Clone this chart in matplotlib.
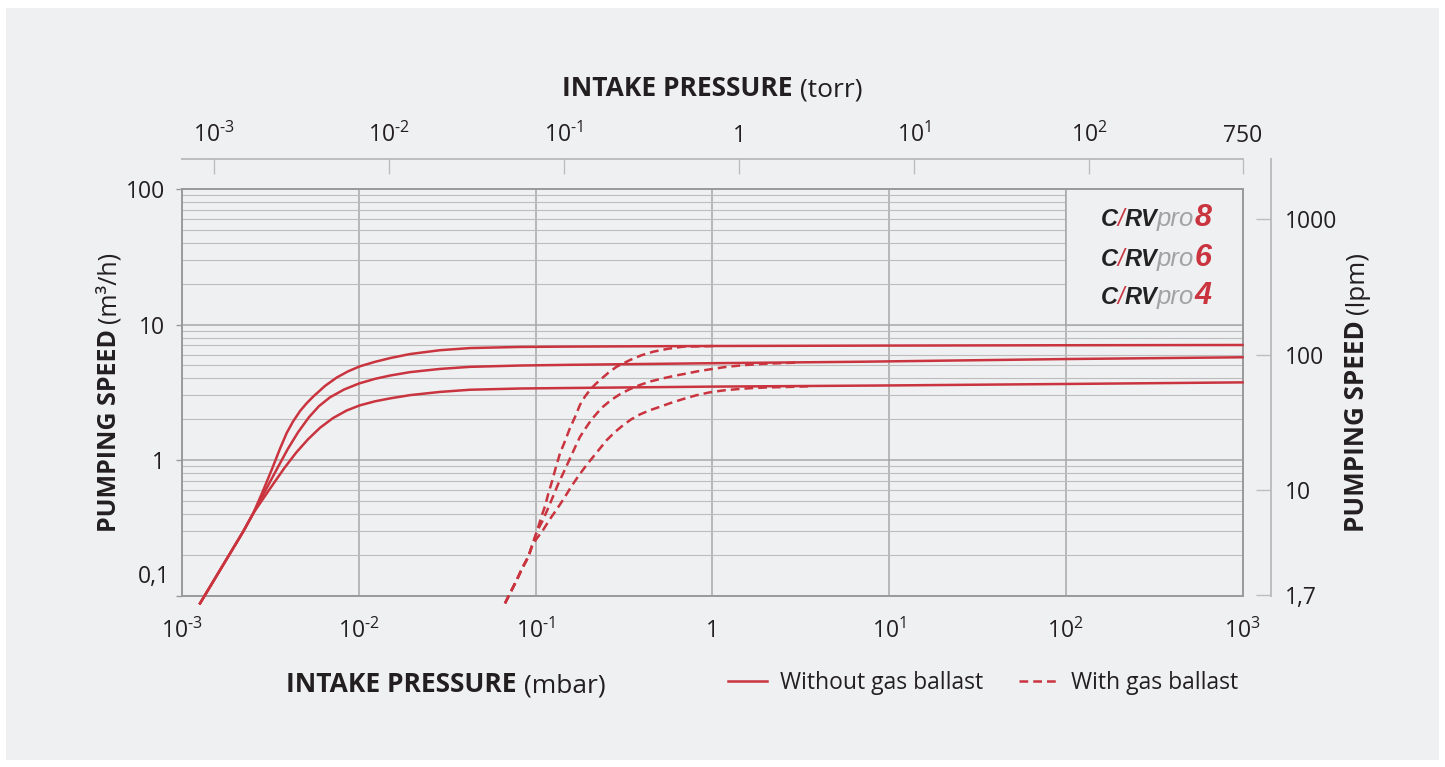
import matplotlib
matplotlib.use("Agg")
import matplotlib.pyplot as plt
from matplotlib.patches import Rectangle
from matplotlib.lines import Line2D
from matplotlib.offsetbox import TextArea, HPacker, AnnotationBbox
from matplotlib.ticker import LogLocator, NullLocator

FONT = 'Open Sans'
plt.rcParams['font.family'] = [FONT, 'DejaVu Sans']
plt.rcParams['mathtext.fontset'] = 'custom'
plt.rcParams['mathtext.rm'] = FONT
plt.rcParams['mathtext.it'] = FONT + ':italic'
plt.rcParams['mathtext.bf'] = FONT + ':bold'

# ---- data (pressure in mbar, speed in m3/h) ----
solid_p8_mbar = [1.26e-3, 2.21e-3, 2.52e-3, 2.86e-3, 3.22e-3, 3.57e-3, 3.90e-3, 4.23e-3, 4.64e-3,
                 5.05e-3, 5.51e-3, 6.42e-3, 7.48e-3, 8.67e-3, 1.01e-2, 1.23e-2, 1.50e-2, 1.94e-2,
                 2.87e-2, 4.25e-2, 8.15e-2, 0.156, 1.0, 10, 100, 1000]
solid_p8_speed = [0.0875, 0.296, 0.404, 0.590, 0.859, 1.21, 1.585, 1.92, 2.30,
                  2.62, 2.94, 3.52, 4.06, 4.51, 4.91, 5.30, 5.65, 6.05,
                  6.46, 6.70, 6.83, 6.87, 6.94, 6.99, 7.03, 7.06]

solid_p6_mbar = [1.26e-3, 2.21e-3, 2.52e-3, 2.94e-3, 3.48e-3, 3.96e-3, 4.53e-3, 5.21e-3, 5.94e-3,
                 6.85e-3, 8.22e-3, 1.0e-2, 1.23e-2, 1.50e-2, 1.94e-2, 2.87e-2, 4.25e-2, 8.15e-2,
                 0.156, 1.0, 6.84, 100, 1000]
solid_p6_speed = [0.0875, 0.296, 0.404, 0.589, 0.888, 1.21, 1.61, 2.07, 2.50,
                  2.90, 3.31, 3.67, 3.97, 4.20, 4.45, 4.70, 4.87, 4.98,
                  5.04, 5.18, 5.31, 5.56, 5.73]

solid_p4_mbar = [1.26e-3, 2.21e-3, 2.52e-3, 3.06e-3, 3.76e-3, 4.40e-3, 5.14e-3, 6.02e-3, 7.13e-3,
                 8.52e-3, 1.01e-2, 1.23e-2, 1.50e-2, 1.94e-2, 2.87e-2, 4.25e-2, 8.15e-2, 0.156,
                 1.0, 10, 100, 1000]
solid_p4_speed = [0.0875, 0.296, 0.404, 0.587, 0.864, 1.13, 1.42, 1.73, 2.04,
                  2.32, 2.53, 2.71, 2.85, 3.01, 3.18, 3.30, 3.37, 3.40,
                  3.48, 3.55, 3.64, 3.74]

ballast_p8_mbar = [6.70e-2, 7.16e-2, 7.81e-2, 8.39e-2, 9.08e-2, 9.57e-2, 0.1015, 0.107, 0.113,
                   0.118, 0.124, 0.130, 0.137, 0.1465, 0.156, 0.167, 0.178, 0.190, 0.203,
                   0.217, 0.231, 0.257, 0.287, 0.342, 0.394, 0.463, 0.561, 0.684, 1.06]
ballast_p8_speed = [0.0875, 0.104, 0.130, 0.159, 0.193, 0.236, 0.296, 0.372, 0.458,
                    0.568, 0.703, 0.883, 1.11, 1.38, 1.71, 2.08, 2.55, 2.94, 3.29,
                    3.61, 3.89, 4.39, 4.88, 5.47, 5.91, 6.30, 6.62, 6.86, 6.94]

ballast_p6_mbar = [6.70e-2, 7.16e-2, 7.81e-2, 8.39e-2, 9.08e-2, 9.57e-2, 0.1015, 0.110, 0.118,
                   0.126, 0.134, 0.145, 0.156, 0.167, 0.178, 0.193, 0.207, 0.224, 0.241,
                   0.267, 0.300, 0.342, 0.389, 0.449, 0.527, 0.614, 0.716, 0.829, 0.969,
                   1.19, 1.50, 1.86, 2.31, 3.13]
ballast_p6_speed = [0.0875, 0.104, 0.130, 0.159, 0.193, 0.236, 0.296, 0.361, 0.446,
                    0.547, 0.665, 0.829, 1.02, 1.24, 1.48, 1.74, 1.99, 2.24, 2.48,
                    2.77, 3.06, 3.34, 3.58, 3.81, 4.01, 4.19, 4.35, 4.52, 4.67,
                    4.86, 5.01, 5.11, 5.17, 5.24]

ballast_p4_mbar = [6.70e-2, 7.16e-2, 7.81e-2, 8.39e-2, 9.08e-2, 9.57e-2, 0.102, 0.110, 0.120,
                   0.132, 0.145, 0.158, 0.174, 0.194, 0.217, 0.252, 0.281, 0.313, 0.346,
                   0.389, 0.443, 0.505, 0.583, 0.684, 0.808, 0.969, 1.15, 1.37, 1.65,
                   2.03, 2.68, 3.57]
ballast_p4_speed = [0.0875, 0.104, 0.130, 0.159, 0.193, 0.236, 0.266, 0.304, 0.364,
                    0.435, 0.524, 0.629, 0.758, 0.918, 1.10, 1.40, 1.61, 1.81, 1.99,
                    2.17, 2.33, 2.47, 2.64, 2.82, 3.00, 3.16, 3.26, 3.33, 3.39,
                    3.43, 3.46, 3.50]

mbar_ticks = [1e-3, 1e-2, 1e-1, 1, 10, 100, 1000]
mbar_labels = [r'$\mathregular{10^{\text{-}3}}$', r'$\mathregular{10^{\text{-}2}}$',
               r'$\mathregular{10^{\text{-}1}}$', '1',
               r'$\mathregular{10^{1}}$', r'$\mathregular{10^{2}}$', r'$\mathregular{10^{3}}$']
torr_ticks = [1e-3, 1e-2, 1e-1, 1, 10, 100, 750]
torr_labels = [r'$\mathregular{10^{\text{-}3}}$', r'$\mathregular{10^{\text{-}2}}$',
               r'$\mathregular{10^{\text{-}1}}$', '1',
               r'$\mathregular{10^{1}}$', r'$\mathregular{10^{2}}$', '750']
speed_ticks = [1, 10, 100]
speed_labels = ['1', '10', '100']
lpm_ticks = [1.7, 10, 100, 1000]
lpm_labels = ['1,7', '10', '100', '1000']
models = ['8', '6', '4']

# ---- style ----
BG = '#eff0f2'
RED = '#c9343f'
TEXT = '#231f20'
SPINE = '#9a9a9a'
GRID_MAJOR = '#a8a8a8'
GRID_MINOR = '#bcbcbc'
LIGHT = '#bdbdbd'
TICK_SIZE = 16.5
TITLE_SIZE = 19
DASH = (0, (3.5, 2))
W, H = 1445, 767


def fx(px):
    return px / W


def fy(py):
    return 1 - py / H


fig = plt.figure(figsize=(W / 100, H / 100), dpi=100, facecolor='white')
fig.patches.append(Rectangle((fx(6), fy(760)), fx(1439) - fx(6), fy(8) - fy(760),
                             transform=fig.transFigure, facecolor=BG, edgecolor='none', zorder=-10))

# main axes (mbar / m3/h)
ax = fig.add_axes([fx(182.3), fy(595.5), fx(1242.5) - fx(182.3), fy(189) - fy(595.5)])
ax.patch.set_visible(False)
ax.set_xscale('log')
ax.set_yscale('log')
ax.set_xlim(1e-3, 1e3)
ax.set_ylim(0.1, 100)
ax.xaxis.set_minor_locator(NullLocator())
ax.yaxis.set_minor_locator(LogLocator(base=10, subs=range(2, 10)))
ax.set_xticks(mbar_ticks)
ax.set_xticklabels(mbar_labels)
ax.set_yticks([0.1] + speed_ticks)
ax.set_yticklabels([''] + speed_labels)
ax.grid(which='major', color=GRID_MAJOR, lw=1.1)
ax.grid(which='minor', axis='y', color=GRID_MINOR, lw=0.8)
ax.tick_params(axis='x', which='both', length=0, pad=17, labelsize=TICK_SIZE, labelcolor=TEXT)
ax.tick_params(axis='y', which='minor', length=0)
ax.tick_params(axis='y', which='major', length=4.5, width=1, color=SPINE, pad=8,
               labelsize=TICK_SIZE, labelcolor=TEXT)
for s in ax.spines.values():
    s.set_color(SPINE)
    s.set_linewidth(1.4)
ax.annotate('0,1', xy=(0, 0.1), xycoords=('axes fraction', 'data'), xytext=(-9, 13),
            textcoords='offset points', ha='right', va='center', fontsize=TICK_SIZE, color=TEXT)

# box for the model names hides the grid behind it
ax.add_patch(Rectangle((100, 10), 900, 90, facecolor=BG, edgecolor=GRID_MAJOR, lw=1.1, zorder=1.6))

for xs, ys in [(solid_p8_mbar, solid_p8_speed), (solid_p6_mbar, solid_p6_speed),
               (solid_p4_mbar, solid_p4_speed)]:
    ax.plot(xs, ys, color=RED, lw=1.8, clip_on=False, zorder=3)
for xs, ys in [(ballast_p8_mbar, ballast_p8_speed), (ballast_p6_mbar, ballast_p6_speed),
               (ballast_p4_mbar, ballast_p4_speed)]:
    ax.plot(xs, ys, color=RED, lw=1.8, ls=DASH, clip_on=False, zorder=3)

# top axis (torr)
axt = fig.add_axes([fx(182.3), fy(159), fx(1242.5) - fx(182.3), 1e-6])
axt.patch.set_visible(False)
axt.set_xscale('log')
axt.set_xlim(6.6e-4, 750)
axt.set_xticks(torr_ticks)
axt.set_xticklabels(torr_labels)
axt.xaxis.set_minor_locator(NullLocator())
axt.set_yticks([])
for k, s in axt.spines.items():
    s.set_visible(k == 'top')
axt.spines['top'].set_color(LIGHT)
axt.spines['top'].set_linewidth(1.4)
axt.tick_params(axis='x', top=True, bottom=False, labeltop=True, labelbottom=False,
                direction='in', length=11, width=1, color=LIGHT, pad=8,
                labelsize=TICK_SIZE, labelcolor=TEXT)

# right axis (lpm)
axr = fig.add_axes([fx(1271), fy(596), 1e-6, fy(159) - fy(596)])
axr.patch.set_visible(False)
axr.set_yscale('log')
axr.set_ylim(1.66, 2775)
axr.set_yticks(lpm_ticks)
axr.set_yticklabels(lpm_labels)
axr.yaxis.set_minor_locator(NullLocator())
axr.set_xticks([])
for k, s in axr.spines.items():
    s.set_visible(k == 'right')
axr.spines['right'].set_color(LIGHT)
axr.spines['right'].set_linewidth(1.4)
axr.tick_params(axis='y', left=False, right=True, labelleft=False, labelright=True,
                direction='in', length=11, width=1, color=LIGHT, pad=10,
                labelsize=TICK_SIZE, labelcolor=TEXT)

# axis titles: bold part + regular part
renderer = fig.canvas.get_renderer()


def two_part(bold, regular, xc, yc, size, rotation=0):
    t1 = fig.text(0, 0, bold, fontsize=size, fontweight='bold', color=TEXT)
    t2 = fig.text(0, 0, regular, fontsize=size, color=TEXT)
    w1 = t1.get_window_extent(renderer).width
    w2 = t2.get_window_extent(renderer).width
    em = size * 100 / 72
    gap = 0.27 * em
    total = w1 + gap + w2
    cap = 0.71 * em
    for t in (t1, t2):
        t.set_ha('left')
        t.set_va('baseline')
        t.set_rotation(rotation)
        t.set_rotation_mode('anchor')
    if rotation == 0:
        x0 = xc - total / 2
        t1.set_position((fx(x0), fy(yc + cap / 2)))
        t2.set_position((fx(x0 + w1 + gap), fy(yc + cap / 2)))
    else:
        y0 = yc + total / 2
        t1.set_position((fx(xc + cap / 2), fy(y0)))
        t2.set_position((fx(xc + cap / 2), fy(y0 - w1 - gap)))


two_part('INTAKE PRESSURE', '(torr)', 712, 87, TITLE_SIZE)
two_part('INTAKE PRESSURE', '(mbar)', 446, 683, TITLE_SIZE)
two_part('PUMPING SPEED', '(m³/h)', 107, 392, 18, rotation=90)
two_part('PUMPING SPEED', '(lpm)', 1355, 392, 18.7, rotation=90)

# legend
handles = [Line2D([], [], color=RED, lw=1.8),
           Line2D([], [], color=RED, lw=1.8, ls=DASH)]
fig.legend(handles, ['Without gas ballast', 'With gas ballast'], loc='center left',
           bbox_to_anchor=(fx(728), fy(683)), ncol=2, frameon=False, fontsize=TICK_SIZE,
           handlelength=1.7, handletextpad=0.55, columnspacing=1.6, borderpad=0,
           borderaxespad=0, labelcolor=TEXT)

# model names
logo = dict(fontfamily='Liberation Sans', fontweight='bold', fontstyle='italic', color='#222222')
for digit, ypix in zip(models, [218, 258, 296]):
    parts = [TextArea('C', textprops=dict(logo, fontsize=17)),
             TextArea('/', textprops=dict(fontfamily='Liberation Sans', fontstyle='italic',
                                          fontsize=17, color=RED)),
             TextArea('RV', textprops=dict(logo, fontsize=17)),
             TextArea('pro', textprops=dict(fontfamily='Liberation Sans', fontstyle='italic',
                                            fontsize=18.5, color='#a3a3a3')),
             TextArea(digit, textprops=dict(logo, fontsize=22, color=RED))]
    pack = HPacker(children=parts, align='baseline', pad=0, sep=0)
    ab = AnnotationBbox(pack, (1156, H - ypix), xycoords='figure pixels', frameon=False,
                        box_alignment=(0.5, 0.5), pad=0)
    fig.add_artist(ab)

fig.savefig('out.png', dpi=100, facecolor=fig.get_facecolor())
